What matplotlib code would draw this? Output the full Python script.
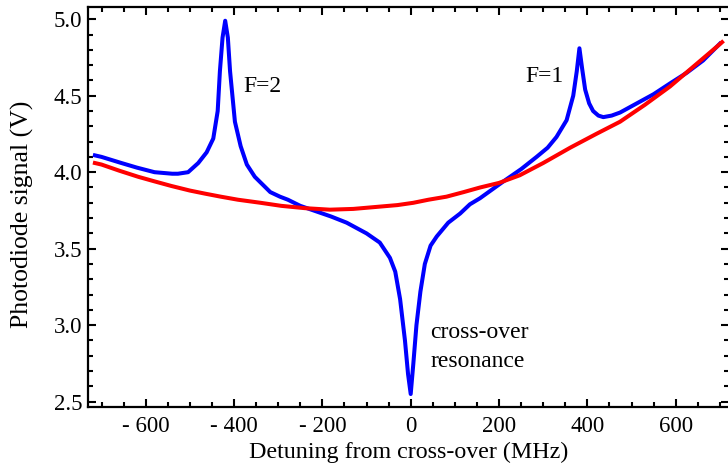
import matplotlib.pyplot as plt
from matplotlib.ticker import MultipleLocator, FuncFormatter

# blue trace (with pump)
x_blue = [-715, -700, -655, -620, -580, -540, -527, -504, -481, -462, -447, -437,
          -432, -426, -420, -414, -409, -398, -385, -371, -353, -318, -296, -278,
          -250, -220, -180, -145, -100, -70, -47, -35, -24, -13, -6, 0, 6, 13, 22,
          32, 45, 59, 85, 112, 134, 157, 210, 250, 285, 310, 330, 353, 368, 376,
          382, 388, 395, 404, 413, 425, 436, 455, 474, 512, 550, 587, 625, 662, 700]
y_blue = [4.11, 4.10, 4.06, 4.03, 4.00, 3.99, 3.99, 4.00, 4.06, 4.13, 4.22, 4.40,
          4.66, 4.88, 4.99, 4.88, 4.66, 4.33, 4.17, 4.05, 3.97, 3.87, 3.84, 3.82,
          3.78, 3.75, 3.71, 3.67, 3.60, 3.54, 3.44, 3.35, 3.17, 2.90, 2.68, 2.55,
          2.75, 3.00, 3.22, 3.40, 3.52, 3.58, 3.67, 3.73, 3.79, 3.83, 3.94, 4.02,
          4.10, 4.16, 4.23, 4.34, 4.50, 4.66, 4.81, 4.68, 4.54, 4.45, 4.40, 4.37,
          4.36, 4.37, 4.39, 4.45, 4.51, 4.58, 4.65, 4.73, 4.84]

# red trace (reference)
x_red = [-715, -700, -660, -617, -580, -542, -500, -466, -430, -391, -340, -293,
         -240, -183, -130, -70, -30, 6, 40, 81, 120, 157, 200, 247, 300, 361,
         420, 474, 530, 587, 640, 693, 705]
y_red = [4.06, 4.05, 4.01, 3.97, 3.94, 3.91, 3.88, 3.86, 3.84, 3.82, 3.80, 3.78,
         3.765, 3.755, 3.76, 3.775, 3.785, 3.80, 3.82, 3.84, 3.87, 3.90, 3.93, 3.98,
         4.06, 4.16, 4.25, 4.33, 4.44, 4.56, 4.69, 4.82, 4.85]

plt.rcParams['font.family'] = ['Liberation Serif', 'DejaVu Serif']

fig = plt.figure(figsize=(7.28, 4.67), dpi=100)
ax = fig.add_axes([0.1209, 0.1291, 0.8811, 0.8566])

ax.plot(x_blue, y_blue, color='#0000ff', lw=2.9, solid_joinstyle='round')
ax.plot(x_red, y_red, color='#ff0000', lw=2.9, solid_joinstyle='round')

ax.set_xlim(-730.6, 721.7)
ax.set_ylim(2.467, 5.082)

ax.xaxis.set_major_locator(MultipleLocator(200))
ax.xaxis.set_minor_locator(MultipleLocator(50))
ax.yaxis.set_major_locator(MultipleLocator(0.5))
ax.yaxis.set_minor_locator(MultipleLocator(0.1))

def fmt_x(v, pos):
    if v < 0:
        return '- %d' % abs(v)
    return '%d' % v

ax.xaxis.set_major_formatter(FuncFormatter(fmt_x))
ax.yaxis.set_major_formatter(FuncFormatter(lambda v, p: '%.1f' % v))

ax.tick_params(which='both', direction='in', top=True, right=True,
               labelsize=16.5, width=1.5)
ax.tick_params(axis='x', pad=7)
ax.tick_params(axis='y', pad=4)
ax.tick_params(which='major', length=6)
ax.tick_params(which='minor', length=3.5)
for s in ax.spines.values():
    s.set_linewidth(1.6)

ax.set_xlabel('Detuning from cross-over (MHz)', fontsize=17.3, labelpad=3)
ax.set_ylabel('Photodiode signal (V)', fontsize=18.5)
ax.yaxis.set_label_coords(-0.084, 0.48)

ax.text(-379, 4.56, 'F=2', fontsize=17, va='center', ha='left')
ax.text(259, 4.625, 'F=1', fontsize=17, va='center', ha='left')
ax.text(44, 2.95, 'cross-over', fontsize=17, va='center', ha='left')
ax.text(44, 2.762, 'resonance', fontsize=17, va='center', ha='left')

fig.savefig('out.png', dpi=100)
